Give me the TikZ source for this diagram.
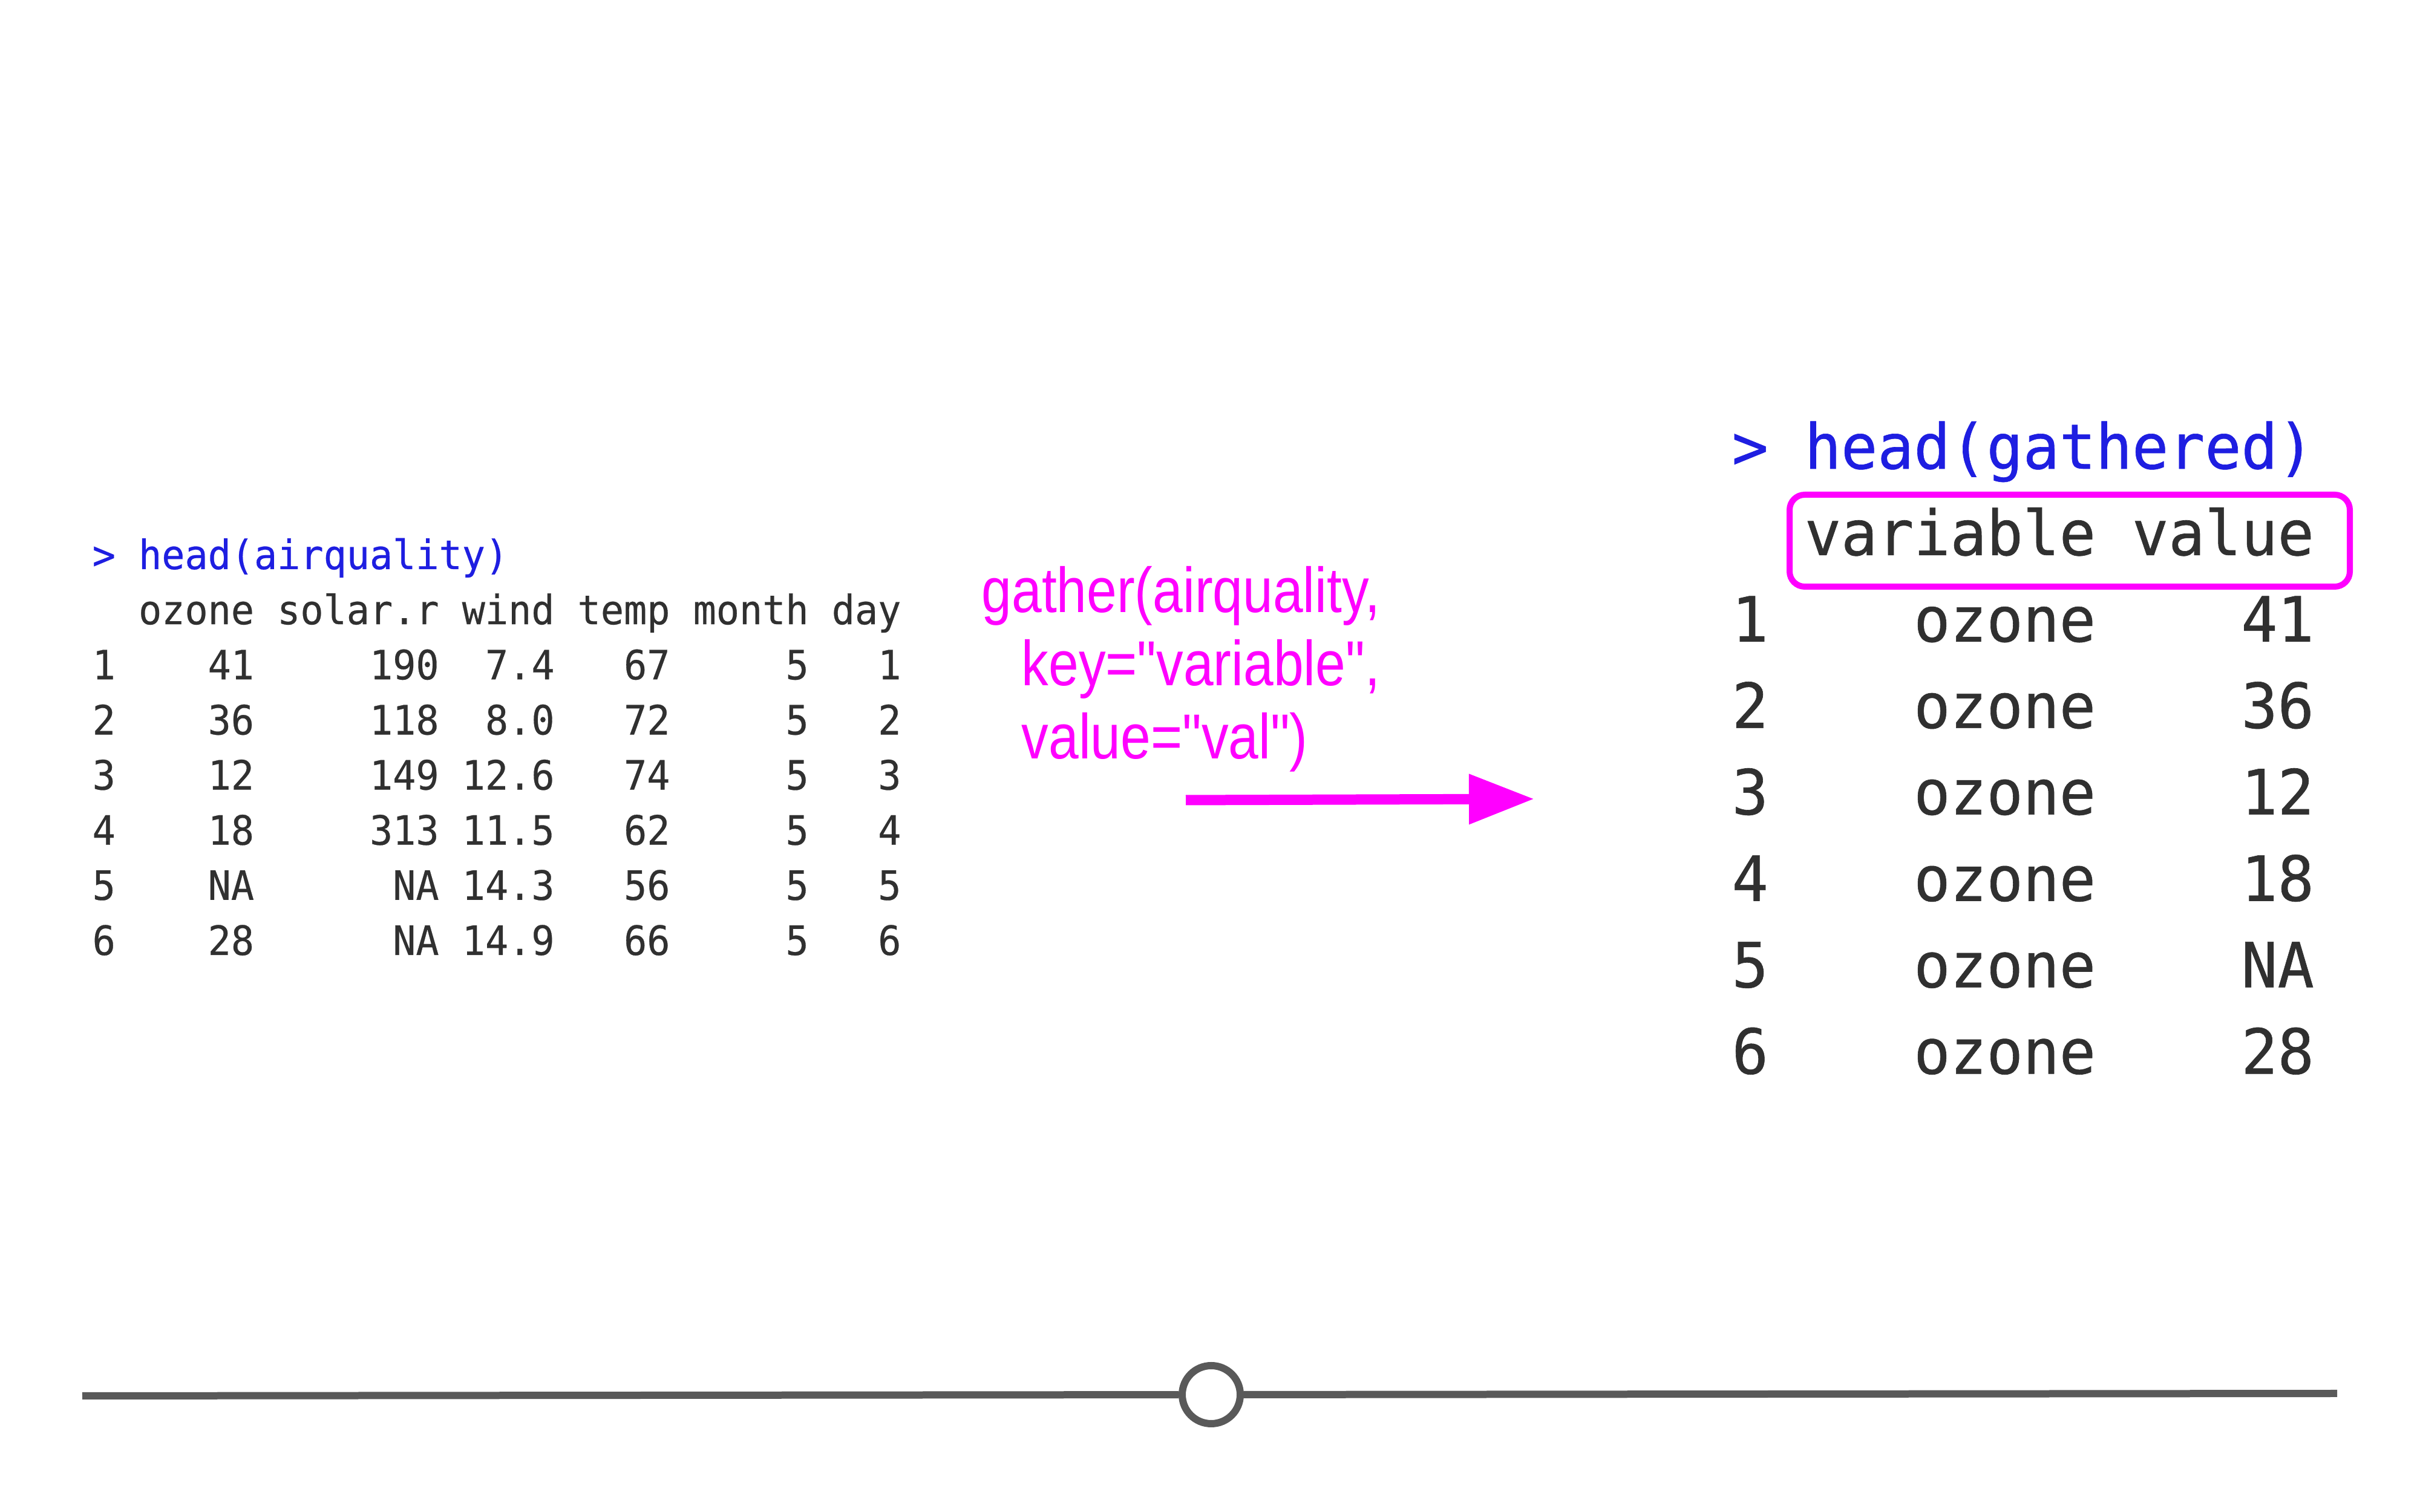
\documentclass[tikz,border=0pt]{standalone}
\usepackage{fontspec}
\usepackage{xcolor}
\usepackage{tikz}
\usetikzlibrary{arrows.meta}
\usetikzlibrary{positioning}

\newfontfamily\consolefont[FakeStretch=0.95, FakeBold=0.4]{DejaVu Sans Mono}
\newfontfamily\bigconsolefont[FakeStretch=0.97, FakeBold=0.6]{DejaVu Sans Mono}
\newfontfamily\notefont[FakeStretch=0.85]{Liberation Sans}
\definecolor{rblue}{RGB}{30,30,225}
\definecolor{rtext}{RGB}{48,48,48}
\definecolor{notemagenta}{RGB}{255,0,255}
\definecolor{slidergray}{RGB}{89,89,89}

\tikzset{
  smallconsole/.style={inner sep=0pt, anchor=base west, text=rtext, font=\consolefont\fontsize{19pt}{25.93pt}\selectfont},
  bigconsole/.style={inner sep=0pt, anchor=base west, text=rtext, font=\bigconsolefont\fontsize{29.3pt}{40.66pt}\selectfont},
  keybox/.style={draw=notemagenta, line width=0.1cm, rounded corners=0.25cm, minimum width=9.26cm, minimum height=1.52cm, inner sep=0pt},
  note/.style={inner sep=0pt, anchor=base west, text=notemagenta, font=\notefont\fontsize{29.9pt}{34.4pt}\selectfont},
  notearrow/.style={notemagenta, line width=0.17cm, -{Triangle[length=1.08cm, width=0.79cm]}},
  knob/.style={circle, draw=slidergray, fill=white, line width=0.12cm, minimum size=0.96cm, inner sep=0pt},
  sliderbar/.style={slidergray, line width=0.12cm}
}

\begin{document}
\begin{tikzpicture}
		\path[fill=white, use as bounding box] (0,0) rectangle (40,25);
		%%nodes
		\node[smallconsole] (airq) at (1.52,15.59) {\begin{tabular}[t]{@{}l@{~}r@{~}r@{~}r@{~}r@{~}r@{~}r@{}}
			\multicolumn{7}{@{}l@{}}{\color{rblue}> head(airquality)}\\
			& ozone & solar.r & wind & temp & month & day\\
			1 & 41 & 190 & 7.4 & 67 & 5 & 1\\
			2 & 36 & 118 & 8.0 & 72 & 5 & 2\\
			3 & 12 & 149 & 12.6 & 74 & 5 & 3\\
			4 & 18 & 313 & 11.5 & 62 & 5 & 4\\
			5 & NA & NA & 14.3 & 56 & 5 & 5\\
			6 & 28 & NA & 14.9 & 66 & 5 & 6
		\end{tabular}};
		\node[note] (gathcall) at (16.22,14.87) {\begin{tabular}[t]{@{}l@{}}
			gather(airquality,\\
			\hspace*{0.66cm}key="variable",\\
			\hspace*{0.66cm}value="val")
		\end{tabular}};
		\node[bigconsole] (gath) at (28.62,17.25) {\begin{tabular}[t]{@{}l@{~}r@{~}r@{}}
			\multicolumn{3}{@{}l@{}}{\color{rblue}> head(gathered)}\\
			& variable & value\\
			1 & ozone & 41\\
			2 & ozone & 36\\
			3 & ozone & 12\\
			4 & ozone & 18\\
			5 & ozone & NA\\
			6 & ozone & 28
		\end{tabular}};
		\node[keybox] (keyhdr) at (34.21,16.06) {};
		\coordinate (arrS) at (19.60,11.77);
		\coordinate (arrE) at (25.36,11.79);
		\draw[notearrow] (arrS) -- (arrE);
		%%slider
		\coordinate (barL) at (1.36,1.92);
		\coordinate (barR) at (38.63,1.96);
		\node[knob] (knob) at (20.02,1.94) {};
		\draw[sliderbar] (barL) -- (knob) -- (barR);
	\end{tikzpicture}
\end{document}
